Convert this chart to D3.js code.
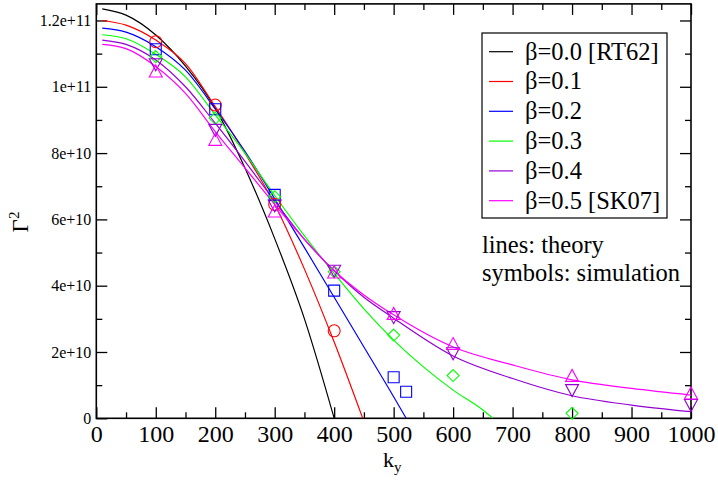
<!DOCTYPE html>
<html>
<head>
<meta charset="utf-8">
<script src="https://cdn.jsdelivr.net/npm/d3@7"></script>
<style>
  html, body { margin: 0; padding: 0; background: #fff; }
  svg { display: block; }
</style>
</head>
<body>
<svg id="chart" width="718" height="480"></svg>
<script>
// ---------- data ----------
const legendLabels = ["β=0.0 [RT62]", "β=0.1", "β=0.2", "β=0.3", "β=0.4", "β=0.5 [SK07]"];
const xTickValues = [0, 100, 200, 300, 400, 500, 600, 700, 800, 900, 1000];
const yTickValues = [0, 2e10, 4e10, 6e10, 8e10, 1e11, 1.2e11];

// theory curves (lines)
const theoryK_b00 = [10, 50, 100, 150, 200, 250, 300, 350, 400];
const theoryG_b00 = [1.235e11, 1.216e11, 1.156e11, 1.062e11, 9.35e10, 7.55e10, 5.42e10, 3.0e10, 0];
const theoryK_b01 = [10, 50, 100, 150, 200, 250, 300, 350, 400, 448];
const theoryG_b01 = [1.20e11, 1.186e11, 1.141e11, 1.07e11, 9.4e10, 8.0e10, 6.45e10, 4.5e10, 2.3e10, 0];
const theoryK_b02 = [10, 50, 100, 150, 200, 250, 300, 350, 400, 450, 500, 521];
const theoryG_b02 = [1.177e11, 1.165e11, 1.121e11, 1.05e11, 9.33e10, 8.05e10, 6.62e10, 5.15e10, 3.65e10, 2.15e10, 6.5e9, 0];
const theoryK_b03 = [10, 50, 100, 150, 200, 250, 300, 350, 400, 450, 500, 550, 600, 650, 667];
const theoryG_b03 = [1.157e11, 1.145e11, 1.098e11, 1.03e11, 9.15e10, 8.0e10, 6.72e10, 5.5e10, 4.37e10, 3.3e10, 2.36e10, 1.55e10, 8.5e9, 2.5e9, 0];
const theoryK_b04 = [10, 50, 100, 150, 200, 250, 300, 350, 400, 450, 500, 600, 700, 800, 900, 1000];
const theoryG_b04 = [1.141e11, 1.128e11, 1.081e11, 1.0e11, 8.9e10, 7.75e10, 6.55e10, 5.4e10, 4.45e10, 3.65e10, 3.02e10, 1.88e10, 1.2e10, 6.8e9, 4.0e9, 2.0e9];
const theoryK_b05 = [10, 50, 100, 150, 200, 250, 300, 350, 400, 450, 500, 600, 700, 800, 900, 1000];
const theoryG_b05 = [1.128e11, 1.115e11, 1.061e11, 9.8e10, 8.65e10, 7.55e10, 6.45e10, 5.4e10, 4.45e10, 3.72e10, 3.12e10, 2.15e10, 1.61e10, 1.16e10, 9.0e9, 7.0e9];

// simulation points (symbols)
const simK_b01 = [100, 200, 300, 400];
const simG_b01 = [1.136e11, 9.45e10, 6.45e10, 2.64e10];
const simK_b02 = [100, 200, 300, 400, 500, 521];
const simG_b02 = [1.113e11, 9.32e10, 6.74e10, 3.85e10, 1.24e10, 8.0e9];
const simK_b03 = [100, 200, 300, 400, 500, 600, 800];
const simG_b03 = [1.091e11, 9.05e10, 6.68e10, 4.42e10, 2.51e10, 1.29e10, 1.5e9];
const simK_b04 = [100, 200, 300, 400, 500, 600, 800, 1000];
const simG_b04 = [1.068e11, 8.70e10, 6.42e10, 4.45e10, 3.05e10, 1.96e10, 8.5e9, 4.0e9];
const simK_b05 = [100, 200, 300, 400, 500, 600, 800, 1000];
const simG_b05 = [1.046e11, 8.40e10, 6.24e10, 4.40e10, 3.15e10, 2.24e10, 1.28e10, 7.5e9];

// ---------- styles ----------
const colors = ["#000000", "#ff0000", "#0000ff", "#00ff00", "#9400d3", "#ff00ff"];
const FONT = '"Liberation Serif"';

const theory = [
  [theoryK_b00, theoryG_b00], [theoryK_b01, theoryG_b01], [theoryK_b02, theoryG_b02],
  [theoryK_b03, theoryG_b03], [theoryK_b04, theoryG_b04], [theoryK_b05, theoryG_b05]
].map(([k, g], i) => ({ color: colors[i], pts: k.map((kk, j) => [kk, g[j]]) }));

const simSets = [
  { k: simK_b01, g: simG_b01, color: colors[1], shape: "circle" },
  { k: simK_b02, g: simG_b02, color: colors[2], shape: "square" },
  { k: simK_b03, g: simG_b03, color: colors[3], shape: "diamond" },
  { k: simK_b04, g: simG_b04, color: colors[4], shape: "down" },
  { k: simK_b05, g: simG_b05, color: colors[5], shape: "up" }
];

// ---------- layout ----------
const svg = d3.select("#chart");
const L = 96.3, R = 691, T = 3.9, B = 418.3;
const x = d3.scaleLinear().domain([0, 1000]).range([L, R]);
const y = d3.scaleLinear().domain([0, 1.25e11]).range([B, T]);

const major = 11, minor = 6;

// bottom axis
const gB = svg.append("g").attr("transform", `translate(0,${B})`);
gB.call(d3.axisBottom(x).tickValues(xTickValues).tickSize(-major).tickPadding(7).tickFormat(d3.format("d")));
gB.append("g").call(d3.axisBottom(x).tickValues(d3.range(50, 1000, 100)).tickSize(-minor).tickFormat(""));

// top axis
const gT = svg.append("g").attr("transform", `translate(0,${T})`);
gT.call(d3.axisTop(x).tickValues(xTickValues).tickSize(-major).tickFormat(""));
gT.append("g").call(d3.axisTop(x).tickValues(d3.range(50, 1000, 100)).tickSize(-minor).tickFormat(""));

// left axis
const yFmt = v => v === 0 ? "0" : d3.format("~e")(v);
const gL = svg.append("g").attr("transform", `translate(${L},0)`);
gL.call(d3.axisLeft(y).tickValues(yTickValues).tickSize(-major).tickPadding(5).tickFormat(yFmt));
gL.append("g").call(d3.axisLeft(y).tickValues(d3.range(1e10, 1.25e11, 2e10)).tickSize(-minor).tickFormat(""));

// right axis
const gR = svg.append("g").attr("transform", `translate(${R},0)`);
gR.call(d3.axisRight(y).tickValues(yTickValues).tickSize(-major).tickFormat(""));
gR.append("g").call(d3.axisRight(y).tickValues(d3.range(1e10, 1.25e11, 2e10)).tickSize(-minor).tickFormat(""));

gB.selectAll("text").style("font-family", FONT).style("font-size", "24px");
gL.selectAll("text").style("font-family", FONT).style("font-size", "16px");

svg.selectAll(".domain").remove();
svg.selectAll(".tick line").attr("stroke", "#000").attr("stroke-width", 1.3);

// frame
svg.append("rect").attr("x", L).attr("y", T).attr("width", R - L).attr("height", B - T)
  .attr("fill", "none").attr("stroke", "#000").attr("stroke-width", 1.6);

// clip
svg.append("clipPath").attr("id", "clip").append("rect")
  .attr("x", L).attr("y", T).attr("width", R - L).attr("height", B - T);

// theory lines
const line = d3.line().x(d => x(d[0])).y(d => y(d[1])).curve(d3.curveMonotoneX);
const gLines = svg.append("g").attr("clip-path", "url(#clip)");
theory.forEach(s => {
  gLines.append("path").attr("d", line(s.pts)).attr("fill", "none")
    .attr("stroke", s.color).attr("stroke-width", 1.2);
});

// symbols
const symUp = { draw(ctx, size) { const s = Math.sqrt(size) / 2; ctx.moveTo(0, -s); ctx.lineTo(s, s * 0.85); ctx.lineTo(-s, s * 0.85); ctx.closePath(); } };
const symDown = { draw(ctx, size) { const s = Math.sqrt(size) / 2; ctx.moveTo(0, s); ctx.lineTo(s, -s * 0.85); ctx.lineTo(-s, -s * 0.85); ctx.closePath(); } };
const symDiamond = { draw(ctx, size) { const s = Math.sqrt(size) / 2; ctx.moveTo(0, -s); ctx.lineTo(s, 0); ctx.lineTo(0, s); ctx.lineTo(-s, 0); ctx.closePath(); } };
const shapeMap = {
  circle: [d3.symbolCircle, 113],
  square: [d3.symbolSquare, 121],
  diamond: [symDiamond, 144],
  down: [symDown, 169],
  up: [symUp, 169]
};
const gSym = svg.append("g");
simSets.forEach(s => {
  const [type, size] = shapeMap[s.shape];
  const sym = d3.symbol().type(type).size(size);
  gSym.selectAll(null).data(s.k.map((k, j) => [k, s.g[j]])).enter().append("path")
    .attr("d", sym)
    .attr("transform", d => `translate(${x(d[0])},${y(d[1])})`)
    .attr("fill", "none").attr("stroke", s.color).attr("stroke-width", 1.1);
});

// axis labels
const xl = svg.append("text").attr("x", 383).attr("y", 467)
  .style("font-family", FONT).style("font-size", "22px");
xl.append("tspan").text("k");
xl.append("tspan").attr("dy", 5).style("font-size", "15px").text("y");

const yl = svg.append("text").attr("transform", "translate(28,222) rotate(-90)")
  .attr("text-anchor", "middle").style("font-family", FONT).style("font-size", "23px");
yl.append("tspan").text("Γ");
yl.append("tspan").attr("dy", -9).style("font-size", "15px").text("2");

// legend
const lg = svg.append("g");
lg.append("rect").attr("x", 482).attr("y", 33).attr("width", 185).attr("height", 185)
  .attr("fill", "#fff").attr("stroke", "#000").attr("stroke-width", 1.2);
legendLabels.forEach((lab, i) => {
  const yy = 51.7 + i * 29.8;
  lg.append("line").attr("x1", 489).attr("x2", 513).attr("y1", yy).attr("y2", yy)
    .attr("stroke", colors[i]).attr("stroke-width", 1.2);
  lg.append("text").attr("x", 525).attr("y", yy + 7.8)
    .style("font-family", FONT).style("font-size", "24.5px").text(lab);
});
svg.append("text").attr("x", 482).attr("y", 253)
  .style("font-family", FONT).style("font-size", "24.5px").text("lines: theory");
svg.append("text").attr("x", 482).attr("y", 280.5)
  .style("font-family", FONT).style("font-size", "24.5px").text("symbols: simulation");
</script>
</body>
</html>
